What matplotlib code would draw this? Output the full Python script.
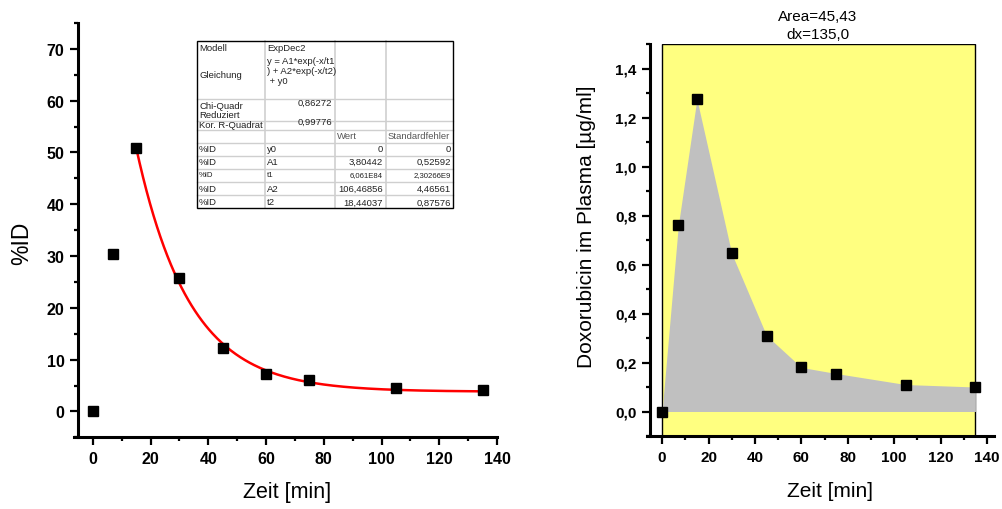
import numpy as np
import matplotlib
matplotlib.use("Agg")
import matplotlib.pyplot as plt
from matplotlib.patches import Rectangle
from matplotlib.lines import Line2D
from matplotlib.ticker import MultipleLocator, FuncFormatter

plt.rcParams['font.family'] = ['Liberation Sans', 'DejaVu Sans']

# ---------------- data ----------------
time_min = [0, 7, 15, 30, 45, 60, 75, 105, 135]
pct_id = [0.0, 30.3, 50.8, 25.7, 12.3, 7.2, 6.0, 4.6, 4.2]
plasma = [0.0, 0.76, 1.275, 0.645, 0.31, 0.18, 0.155, 0.11, 0.10]

# ExpDec2 fit parameters (from the table)
fit_y0 = 0.0
fit_A1 = 3.80442
fit_t1 = 6.061e84
fit_A2 = 106.46856
fit_t2 = 18.44037
fit_start, fit_end = 15, 135

area_label = "Area=45,43"
dx_label = "dx=135,0"

tab_names = ["%ID", "%ID", "%ID", "%ID", "%ID"]
tab_params = ["y0", "A1", "t1", "A2", "t2"]
tab_values = ["0", "3,80442", "6,061E84", "106,46856", "18,44037"]
tab_errors = ["0", "0,52592", "2,30266E9", "4,46561", "0,87576"]
tab_chi = "0,86272"
tab_r2 = "0,99776"

# ---------------- figure ----------------
W, H = 1002, 510
fig = plt.figure(figsize=(W / 100, H / 100), dpi=100)


def fx(px):
    return px / W


def fy(py):
    return 1 - py / H


def style_axes(ax, tick_fs):
    for s in ("top", "right"):
        ax.spines[s].set_visible(False)
    for s in ("left", "bottom"):
        ax.spines[s].set_linewidth(2.2)
    ax.tick_params(which="major", direction="out", length=5.5, width=1.6,
                   labelsize=tick_fs, pad=4.5)
    ax.tick_params(which="minor", direction="out", length=3.2, width=1.6)
    for lab in ax.get_xticklabels() + ax.get_yticklabels():
        lab.set_fontweight("bold")


# ---- left plot ----
axL = fig.add_axes([fx(74), fy(438.3), fx(497 - 74), (438.3 - 24) / H])
axL.set_xlim(-6.5, 140)
axL.set_ylim(-5, 75)
axL.spines["left"].set_position(("data", -5))
axL.xaxis.set_major_locator(MultipleLocator(20))
axL.xaxis.set_minor_locator(MultipleLocator(10))
axL.yaxis.set_major_locator(MultipleLocator(10))
axL.yaxis.set_minor_locator(MultipleLocator(5))
axL.set_yticks([0, 10, 20, 30, 40, 50, 60, 70])

xf = np.linspace(fit_start, fit_end, 300)
yf = fit_A1 * np.exp(-xf / fit_t1) + fit_A2 * np.exp(-xf / fit_t2) + fit_y0
axL.plot(xf, yf, color="red", lw=1.8, zorder=2)
axL.plot(time_min, pct_id, ls="none", marker="s", ms=7.8, color="black",
         zorder=3, clip_on=False)
style_axes(axL, 11.5)
axL.set_xlabel("Zeit [min]", fontsize=15.5)
axL.set_ylabel("%ID", fontsize=16.5)
axL.xaxis.label.set_va("center")
axL.yaxis.label.set_va("center")
axL.xaxis.set_label_coords(0.504, -0.132)
axL.yaxis.set_label_coords(-0.123, 0.471)

# ---- right plot ----
axR = fig.add_axes([fx(647), fy(437), fx(994 - 647), (437 - 45) / H])
axR.set_xlim(-6.5, 143)
axR.set_ylim(-0.1, 1.5)
axR.spines["left"].set_position(("data", -5))
axR.set_xticks([0, 20, 40, 60, 80, 100, 120, 140])
axR.xaxis.set_minor_locator(MultipleLocator(10))
axR.set_yticks([0.0, 0.2, 0.4, 0.6, 0.8, 1.0, 1.2, 1.4])
axR.yaxis.set_minor_locator(MultipleLocator(0.1))
axR.yaxis.set_major_formatter(FuncFormatter(lambda v, p: f"{v:.1f}".replace(".", ",")))

x0, x1 = time_min[0], time_min[-1]
axR.add_patch(Rectangle((x0, -0.1), x1 - x0, 1.6, facecolor="#ffff80",
                        edgecolor="black", lw=1.0, zorder=0.5))
axR.fill_between(time_min, plasma, 0, color="#c0c0c0", lw=0, zorder=1)
axR.plot(time_min, plasma, ls="none", marker="s", ms=7.2, color="black",
         zorder=3, clip_on=False)
style_axes(axR, 11)
axR.set_xlabel("Zeit [min]", fontsize=15)
axR.set_ylabel("Doxorubicin im Plasma [µg/ml]", fontsize=15)
axR.xaxis.label.set_va("center")
axR.yaxis.label.set_va("center")
axR.xaxis.set_label_coords(0.527, -0.140)
axR.yaxis.set_label_coords(-0.173, 0.536)

fig.text(fx(818), fy(17), area_label, ha="center", va="center", fontsize=11)
fig.text(fx(818), fy(35), dx_label, ha="center", va="center", fontsize=11)

# ---- fit table ----
col_x = [196.7, 265, 335, 386, 453.3]
row_y = [41.7, 100, 121.7, 130.5, 144, 157, 170, 183, 196, 209]
grid_c = "#cfcfcf"

fig.add_artist(Rectangle((fx(col_x[0]), fy(row_y[-1])),
                         fx(col_x[-1] - col_x[0]), (row_y[-1] - row_y[0]) / H,
                         transform=fig.transFigure, facecolor="white",
                         edgecolor="none", zorder=4))
for yy in row_y[1:-1]:
    fig.add_artist(Line2D([fx(col_x[0]), fx(col_x[-1])], [fy(yy), fy(yy)],
                          transform=fig.transFigure, color=grid_c, lw=1.0, zorder=5))
for xx in col_x[1:-1]:
    fig.add_artist(Line2D([fx(xx), fx(xx)], [fy(row_y[0]), fy(row_y[-1])],
                          transform=fig.transFigure, color=grid_c, lw=1.2, zorder=5))
fig.add_artist(Rectangle((fx(col_x[0]), fy(row_y[-1])),
                         fx(col_x[-1] - col_x[0]), (row_y[-1] - row_y[0]) / H,
                         transform=fig.transFigure, facecolor="none",
                         edgecolor="black", lw=1.0, zorder=6))

tc = "#222222"
tfs = 6.8


def ttext(px, py, s, ha="left", fs=tfs, color=tc):
    fig.text(fx(px), fy(py), s, ha=ha, va="center", fontsize=fs, color=color,
             zorder=7)


ttext(199, 48.5, "Modell")
ttext(199, 75, "Gleichung")
ttext(267, 48.5, "ExpDec2")
ttext(267, 61, "y = A1*exp(-x/t1")
ttext(267, 71.5, ") + A2*exp(-x/t2)")
ttext(267, 82, " + y0")
ttext(199, 106.5, "Chi-Quadr")
ttext(199, 115, "Reduziert")
ttext(332, 103.5, tab_chi, ha="right")
ttext(199, 126, "Kor. R-Quadrat")
ttext(332, 122.5, tab_r2, ha="right")
ttext(337, 136.5, "Wert", color="#555555")
ttext(388, 136.5, "Standardfehler", color="#555555")

row_centers = [150, 162.5, 175.5, 189, 203]
for i, yc in enumerate(row_centers):
    fs = 5.6 if tab_params[i] == "t1" else tfs
    ttext(199, yc, tab_names[i], fs=fs)
    ttext(267, yc, tab_params[i], fs=fs)
    ttext(383, yc, tab_values[i], ha="right", fs=fs)
    ttext(451, yc, tab_errors[i], ha="right", fs=fs)

fig.savefig("out.png", dpi=100)
